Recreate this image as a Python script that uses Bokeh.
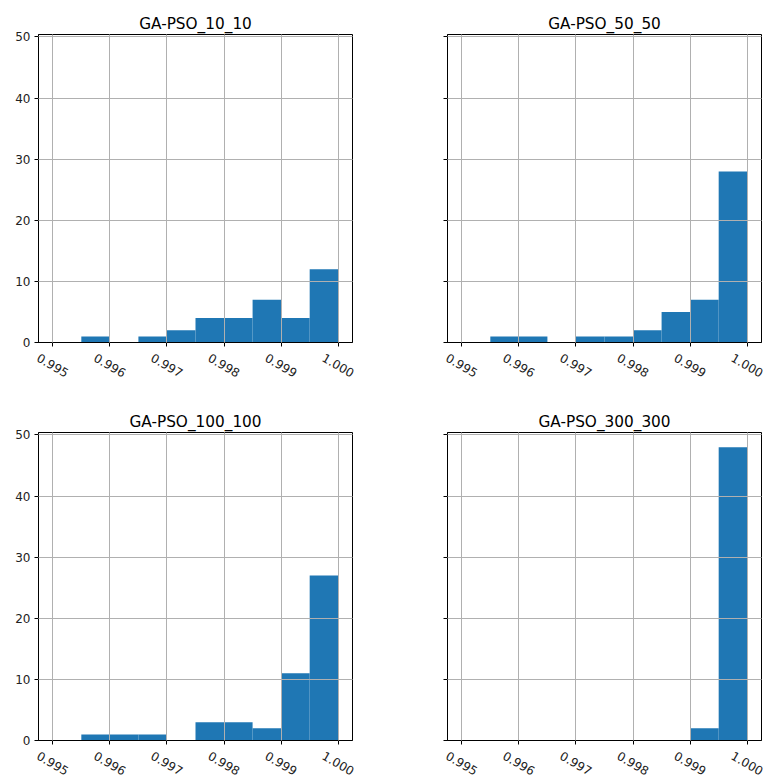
import math
from bokeh.plotting import figure
from bokeh.layouts import column, row
from bokeh.models import Range1d, FixedTicker, CustomJSTickFormatter
from bokeh.embed import file_html
from bokeh.resources import INLINE

bin_edges = [0.9950, 0.9955, 0.9960, 0.9965, 0.9970, 0.9975,
             0.9980, 0.9985, 0.9990, 0.9995, 1.0000]
titles = ["GA-PSO_10_10", "GA-PSO_50_50", "GA-PSO_100_100", "GA-PSO_300_300"]
counts_10_10 = [0, 1, 0, 1, 2, 4, 4, 7, 4, 12]
counts_50_50 = [0, 1, 1, 0, 1, 1, 2, 5, 7, 28]
counts_100_100 = [0, 1, 1, 1, 0, 3, 3, 2, 11, 27]
counts_300_300 = [0, 0, 0, 0, 0, 0, 0, 0, 2, 48]
x_ticks = [0.995, 0.996, 0.997, 0.998, 0.999, 1.000]
x_tick_labels = ["0.995", "0.996", "0.997", "0.998", "0.999", "1.000"]
y_ticks = [0, 10, 20, 30, 40, 50]

X0, X1 = 0.99475, 1.00025
Y0, Y1 = 0, 50.4
FONT = "DejaVu Sans"
TICK_FONT = "12px"
BLANK = CustomJSTickFormatter(code="return '';")
PANEL_W = 383
FRAME_H = 308
MAIN_BOTTOM = 8        # border under each frame (ticks only)
LABEL_CENTER = 22.8    # px from frame bottom to label centre


def make_panel(title, counts, height, bl, br, bt, show_ylabels):
    p = figure(width=PANEL_W, height=height, output_backend="svg",
               toolbar_location=None, title=title,
               x_range=Range1d(X0, X1), y_range=Range1d(Y0, Y1),
               min_border_left=bl, min_border_right=br,
               min_border_top=bt, min_border_bottom=MAIN_BOTTOM)
    p.quad(left=bin_edges[:-1], right=bin_edges[1:], bottom=0, top=counts,
           fill_color="#1f77b4", line_color=None)
    p.title.align = "center"
    p.title.text_font = FONT
    p.title.text_font_size = "15.3px"
    p.title.text_font_style = "normal"
    p.title.text_color = "#000000"
    p.title.standoff = 4
    p.outline_line_color = "#000000"
    p.outline_line_width = 1
    p.outline_line_alpha = 1
    p.background_fill_color = "white"
    p.border_fill_color = "white"
    for ax in (p.xaxis[0], p.yaxis[0]):
        ax.axis_line_color = "#000000"
        ax.major_tick_line_color = "#000000"
        ax.major_tick_out = 4
        ax.major_tick_in = 0
        ax.minor_tick_line_color = None
        ax.major_label_text_font = FONT
        ax.major_label_text_font_size = TICK_FONT
        ax.major_label_text_color = "#222222"
        ax.major_label_standoff = 4
    p.xaxis[0].ticker = FixedTicker(ticks=x_ticks)
    p.xaxis[0].formatter = BLANK
    p.xaxis[0].major_label_text_font_size = "0px"
    p.xaxis[0].major_label_standoff = 0
    p.yaxis[0].ticker = FixedTicker(ticks=y_ticks)
    if not show_ylabels:
        p.yaxis[0].formatter = BLANK
        p.yaxis[0].major_label_text_font_size = "0px"
    for g in (p.xgrid[0], p.ygrid[0]):
        g.grid_line_color = "#b0b0b0"
        g.grid_line_width = 1
        g.level = "overlay"
    p.xgrid[0].ticker = FixedTicker(ticks=x_ticks)
    p.ygrid[0].ticker = FixedTicker(ticks=y_ticks)
    return p


def make_label_strip(height, bl, br):
    # same x scale as the panel above, extended over its side borders
    fw = PANEL_W - bl - br
    u = (X1 - X0) / fw
    s = figure(width=PANEL_W, height=height, output_backend="svg",
               toolbar_location=None,
               x_range=Range1d(X0 - bl * u, X1 + br * u),
               y_range=Range1d(-height, 0),
               x_axis_type=None, y_axis_type=None, min_border=0)
    s.grid.visible = False
    s.outline_line_color = None
    s.background_fill_color = "white"
    s.border_fill_color = "white"
    s.text(x=x_ticks, y=[-(LABEL_CENTER - MAIN_BOTTOM)] * len(x_ticks),
           text=x_tick_labels, angle=-math.pi / 6,
           text_align="center", text_baseline="middle",
           text_font={"value": FONT}, text_font_size={"value": TICK_FONT},
           text_color="#222222")
    return s


ROW1_TOP, ROW2_TOP = 34, 43
row1_main_h = ROW1_TOP + FRAME_H + MAIN_BOTTOM
row2_main_h = ROW2_TOP + FRAME_H + MAIN_BOTTOM
row1_strip_h = 389 - row1_main_h
row2_strip_h = 389 - row2_main_h

p1 = make_panel(titles[0], counts_10_10, row1_main_h, 38, 31, ROW1_TOP, True)
p2 = make_panel(titles[1], counts_50_50, row1_main_h, 64, 5, ROW1_TOP, False)
p3 = make_panel(titles[2], counts_100_100, row2_main_h, 38, 31, ROW2_TOP, True)
p4 = make_panel(titles[3], counts_300_300, row2_main_h, 64, 5, ROW2_TOP, False)
s1 = make_label_strip(row1_strip_h, 38, 31)
s2 = make_label_strip(row1_strip_h, 64, 5)
s3 = make_label_strip(row2_strip_h, 38, 31)
s4 = make_label_strip(row2_strip_h, 64, 5)

layout = column(row(p1, p2, spacing=0), row(s1, s2, spacing=0),
                row(p3, p4, spacing=0), row(s3, s4, spacing=0), spacing=0)

open("out.html", "w").write(file_html(layout, INLINE))
